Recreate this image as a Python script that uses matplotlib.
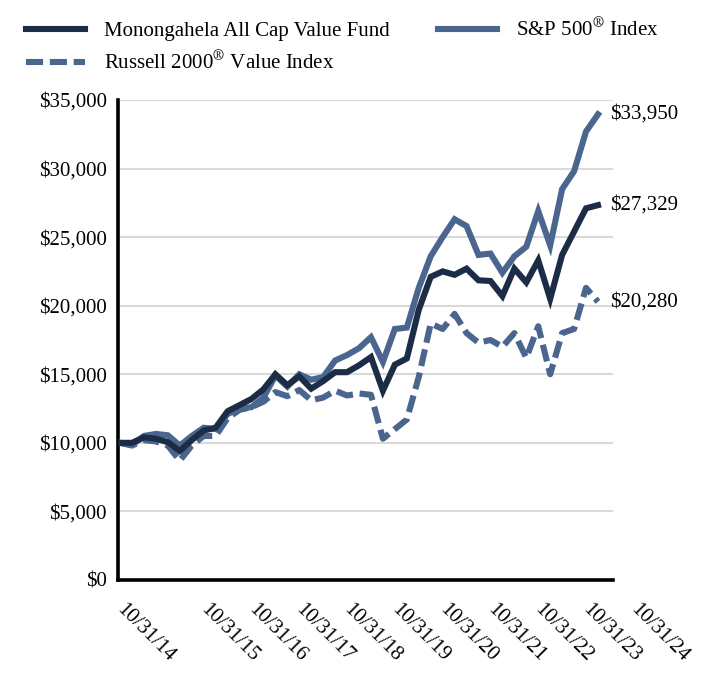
'''
Growth of $10,000 chart: fund vs. two indexes
'''
import numpy as np
import matplotlib
matplotlib.use('Agg')
from matplotlib import pyplot as plt
from matplotlib.ticker import FuncFormatter
from matplotlib.transforms import blended_transform_factory

plt.rcParams['font.family'] = ['Liberation Serif', 'DejaVu Serif']
plt.rcParams['mathtext.fontset'] = 'stix'

# quarterly values, 10/31/14 .. 10/31/24
fund = [10000, 10000, 10400, 10300, 10050, 9400, 10200, 10900, 11100, 12300,
        12750, 13200, 13900, 15000, 14200, 14850, 13950, 14500, 15150, 15150,
        15650, 16250, 13800, 15700, 16150, 19700, 22100, 22500, 22250, 22700,
        21850, 21800, 20700, 22700, 21700, 23300, 20500, 23700, 25400, 27100,
        27329]
sp500 = [10000, 9850, 10500, 10650, 10550, 9800, 10500, 11100, 11000, 12100,
         12500, 12600, 13300, 14900, 14100, 15000, 14600, 14800, 16000, 16400,
         16900, 17700, 15900, 18300, 18400, 21300, 23600, 25000, 26300, 25800,
         23700, 23800, 22400, 23600, 24300, 26900, 24400, 28500, 29800, 32700,
         33950]
russell = [10000, 9800, 10200, 10100, 9800, 8700, 9800, 10500, 10500, 11800,
           12400, 12600, 13000, 13700, 13400, 13850, 13100, 13300, 13800, 13450,
           13600, 13500, 10300, 11000, 11700, 14800, 18700, 18300, 19400, 18000,
           17300, 17500, 17000, 18000, 16200, 18500, 15000, 18000, 18300, 21300,
           20280]
date_labels = ['10/31/14', '10/31/15', '10/31/16', '10/31/17', '10/31/18',
               '10/31/19', '10/31/20', '10/31/21', '10/31/22', '10/31/23',
               '10/31/24']
names = ['Monongahela All Cap Value Fund',
         r'Russell 2000$^{\circledR}$ Value Index',
         r'S&P 500$^{\circledR}$ Index']

DARK = '#1d2c46'
STEEL = '#4a668f'

fig = plt.figure(figsize=(7.08, 6.96), dpi=100)
ax = fig.add_axes([0.1667, 0.1667, 0.699, 0.6897])

x = np.arange(len(fund))
l1, = ax.plot(x, fund, color=DARK, lw=4.4, solid_joinstyle='miter', zorder=4)
l3, = ax.plot(x, russell, color=STEEL, lw=4.4, dashes=(2.8, 1.1),
              solid_joinstyle='miter', zorder=2)
l2, = ax.plot(x, sp500, color=STEEL, lw=4.4, solid_joinstyle='miter', zorder=3)

ax.set_xlim(-0.17, 41.25)
ax.set_ylim(0, 35000)
ax.set_yticks(np.arange(0, 35001, 5000))
ax.yaxis.set_major_formatter(FuncFormatter(lambda v, p: '${:,.0f}'.format(v)))
ax.tick_params(axis='y', length=0, labelsize=15, pad=8)
ax.set_xticks([])
ax.grid(axis='y', color='#d9d9d9', lw=1.5)
ax.set_axisbelow(True)
for s in ['top', 'right']:
    ax.spines[s].set_visible(False)
for s in ['left', 'bottom']:
    ax.spines[s].set_linewidth(2.6)
    ax.spines[s].set_color('black')

# date labels sit off the data points, as in the source
trans = blended_transform_factory(ax.transData, ax.transAxes)
label_x = [-0.6] + [4 * k + 2.4 for k in range(1, 11)]
for lx, lab in zip(label_x, date_labels):
    ax.text(lx, -0.042, lab, transform=trans, rotation=-45, ha='left',
            va='top', fontsize=15, clip_on=False)

# end values
for series in [sp500, fund, russell]:
    ax.text(41.0, series[-1], '${:,.0f}'.format(series[-1]), fontsize=15,
            va='center', ha='left', clip_on=False)

fig.legend([l1, l3, l2], names, loc='upper left', bbox_to_anchor=(0.01, 1.0),
           ncol=2, frameon=False, fontsize=15, handlelength=2.85,
           handletextpad=0.9, columnspacing=2.3, labelspacing=0.5)

fig.savefig('out.png', dpi=100)
